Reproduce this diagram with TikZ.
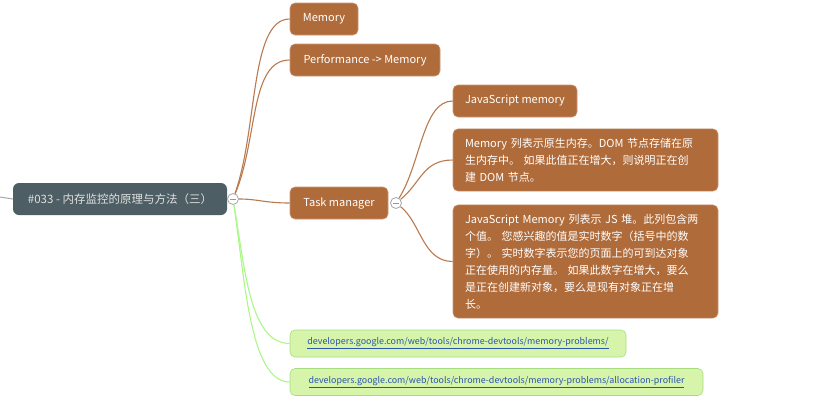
\documentclass[tikz,border=0pt]{standalone}
\usepackage{fontspec}
\setmainfont{Noto Sans CJK SC}
\usepackage{xcolor}
\usepackage{tikz}
\definecolor{topicbrown}{RGB}{176, 107, 58}
\definecolor{rootslate}{RGB}{78, 94, 101}
\definecolor{linkgreen}{RGB}{214, 245, 170}
\definecolor{linkedge}{RGB}{168, 220, 128}
\definecolor{linkblue}{RGB}{45, 85, 170}
\usetikzlibrary{shapes,arrows,positioning,calc}

\begin{document}
\begin{tikzpicture}[x=1pt, y=-1pt,
    topic/.style={rectangle, rounded corners=5pt, fill=topicbrown, draw=topicbrown!70!white, line width=0.6pt, text=white, minimum height=32pt, inner xsep=12pt, font=\fontsize{11}{17}\selectfont},
    note/.style={topic, text width=241pt, align=left, inner ysep=9pt},
    rootbox/.style={rectangle, rounded corners=6pt, fill=rootslate, text=white!88!black, minimum width=214pt, minimum height=32pt, font=\fontsize{11.5}{17}\selectfont},
    linkbox/.style={rectangle, rounded corners=5pt, fill=linkgreen, draw=linkedge, line width=0.6pt, text=linkblue, minimum height=27pt, inner xsep=10pt, font=\fontsize{8.9}{12}\selectfont},
    collapse/.style={circle, draw=gray!70, fill=white, line width=0.8pt, minimum size=11pt, inner sep=0pt,
        path picture={\draw[gray!80, line width=0.9pt] ([xshift=2.5pt]path picture bounding box.west) -- ([xshift=-2.5pt]path picture bounding box.east);}},
    brownline/.style={draw=topicbrown!90!white, line width=1.1pt},
    greenline/.style={draw=linkgreen!80!green, line width=1.1pt}
]
    \useasboundingbox (0,0) rectangle (830,402);

    \coordinate (leftend) at (0,197);
    \node[rootbox] (root) at (120,199) {\#033 - 内存监控的原理与方法（三）};
    \node[collapse] (rootdot) at (233,199) {};

    \node[topic, minimum width=68pt] (memory) at (324,19) {Memory};
    \node[topic, minimum width=150pt] (perf) at (365,60) {Performance -> Memory};
    \node[topic, minimum width=98pt] (taskmgr) at (339,203) {Task manager};
    \node[collapse] (taskdot) at (396,203) {};

    \node[topic, minimum width=124pt] (jsmem) at (515,101) {JavaScript memory};
    \node[note] (memlist) at (585.5,160) {Memory 列表示原生内存。DOM 节点存储在原\\
        生内存中。 如果此值正在增大，则说明正在创\\
        建 DOM 节点。};
    \node[note] (jsheap) at (585.5,261.5) {JavaScript Memory 列表示 JS 堆。此列包含两\\
        个值。 您感兴趣的值是实时数字（括号中的数\\
        字）。 实时数字表示您的页面上的可到达对象\\
        正在使用的内存量。 如果此数字在增大，要么\\
        是正在创建新对象，要么是现有对象正在增\\
        长。};

    \node[linkbox, minimum width=336pt] (link1) at (458,343.5) {\underline{developers.google.com/web/tools/chrome-devtools/memory-problems/}};
    \node[linkbox, minimum width=413pt] (link2) at (496.5,382) {\underline{developers.google.com/web/tools/chrome-devtools/memory-problems/allocation-profiler}};

    % connectors
    \draw[gray!70, line width=1pt] (leftend) -- (root.west);
    \draw[brownline] (rootdot) .. controls +(25,-70) and +(-40,0) .. (memory.west);
    \draw[brownline] (rootdot) .. controls +(25,-60) and +(-40,0) .. (perf.west);
    \draw[brownline] (rootdot) .. controls +(25,0) and +(-25,0) .. (taskmgr.west);
    \draw[brownline] (taskdot) .. controls +(25,-40) and +(-30,0) .. (jsmem.west);
    \draw[brownline] (taskdot) .. controls +(25,-20) and +(-30,0) .. (memlist.west);
    \draw[brownline] (taskdot) .. controls +(25,20) and +(-30,0) .. (jsheap.west);
    \draw[greenline] (rootdot) .. controls +(12,70) and +(-40,0) .. (link1.west);
    \draw[greenline] (rootdot) .. controls +(12,80) and +(-40,0) .. (link2.west);
\end{tikzpicture}
\end{document}
